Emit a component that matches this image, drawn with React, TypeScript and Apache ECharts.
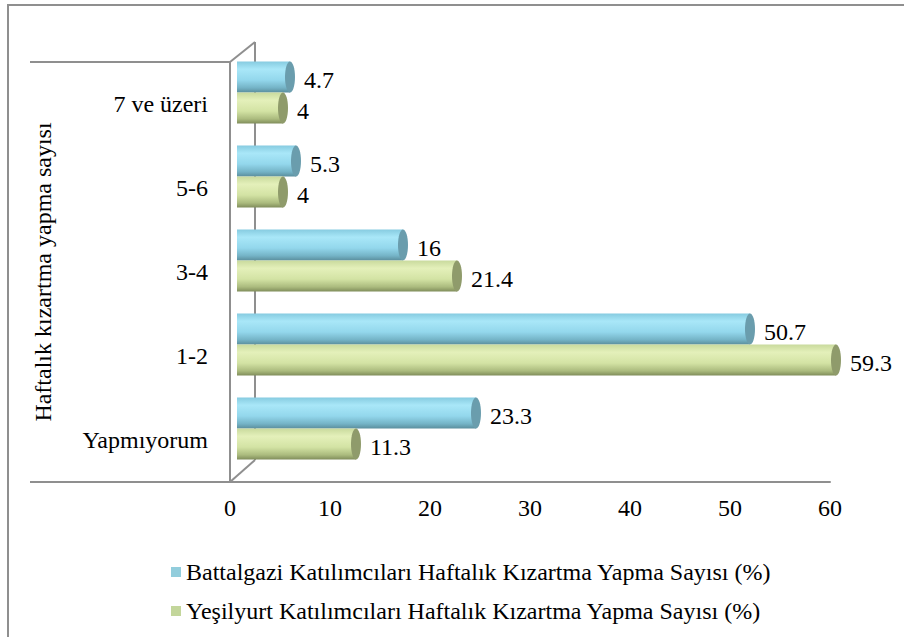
import React, { useEffect, useRef } from "react";
import * as echarts from "echarts";

const categories = ["Yapmıyorum", "1-2", "3-4", "5-6", "7 ve üzeri"];
const battalgazi = [23.3, 50.7, 16, 5.3, 4.7];
const yesilyurt = [11.3, 59.3, 21.4, 4, 4];
const seriesNames = [
  "Battalgazi Katılımcıları Haftalık Kızartma Yapma Sayısı (%)",
  "Yeşilyurt Katılımcıları Haftalık Kızartma Yapma Sayısı (%)",
];
const axisTitle = "Haftalık kızartma yapma sayısı";

const FONT = "Liberation Serif";
const LINE = "#8f8f8f";

const palettes = [
  {
    legend: "#92cddc",
    cap: "#6a9dad",
    stops: [
      { offset: 0, color: "#86cbe0" },
      { offset: 0.25, color: "#a9e7f8" },
      { offset: 0.6, color: "#93d7ec" },
      { offset: 0.85, color: "#74b3c6" },
      { offset: 1, color: "#5b8e9d" },
    ],
  },
  {
    legend: "#c3d69b",
    cap: "#8f9b6b",
    stops: [
      { offset: 0, color: "#c9da9d" },
      { offset: 0.25, color: "#e4f0ba" },
      { offset: 0.6, color: "#d3e3a4" },
      { offset: 0.85, color: "#abbb7e" },
      { offset: 1, color: "#7f8c5a" },
    ],
  },
];

function makeRender(si: number) {
  return (params: any, api: any) => {
    const cat = api.value(1);
    const v = api.value(0);
    const p0 = api.coord([0, cat]);
    const p1 = api.coord([v, cat]);
    const band = api.size([0, 1])[1];
    const h = band * 0.37;
    const shift = band * 0.137;
    const cy = si === 0 ? p0[1] - shift - h / 2 : p0[1] - shift + h / 2;
    const dx = 13;
    const x0 = p0[0] + 7;
    const xe = p1[0] + dx;
    const pal = palettes[si];
    return {
      type: "group",
      children: [
        {
          type: "rect",
          shape: { x: x0, y: cy - h / 2, width: Math.max(xe - x0, 0), height: h },
          style: {
            fill: new echarts.graphic.LinearGradient(0, 0, 0, 1, pal.stops),
          },
        },
        {
          type: "ellipse",
          shape: { cx: xe, cy: cy, rx: 5, ry: h / 2 },
          style: { fill: pal.cap },
        },
        {
          type: "text",
          style: {
            x: xe + 14,
            y: cy + 3,
            text: String(v),
            fill: "#000",
            fontSize: 24,
            fontFamily: FONT,
            verticalAlign: "middle",
          },
        },
      ],
    };
  };
}

function buildOption() {
  const lineStyle = { stroke: LINE, lineWidth: 2 };
  return {
    animation: false,
    backgroundColor: "#fff",
    grid: { left: 230, right: 74, top: 62, bottom: 155, containLabel: false },
    xAxis: {
      type: "value",
      min: 0,
      max: 60,
      interval: 10,
      axisLine: { show: true, lineStyle: { color: LINE, width: 2 } },
      axisTick: { show: false },
      splitLine: { show: false },
      axisLabel: { fontSize: 24, color: "#000", fontFamily: FONT, margin: 14 },
    },
    yAxis: {
      type: "category",
      data: categories,
      axisLine: { show: true, lineStyle: { color: LINE, width: 2 } },
      axisTick: { show: false },
      axisLabel: { fontSize: 24, color: "#000", fontFamily: FONT, margin: 22 },
      name: axisTitle,
      nameLocation: "middle",
      nameRotate: 90,
      nameGap: 175,
      nameTextStyle: { fontSize: 24, color: "#000", fontFamily: FONT },
    },
    legend: {
      orient: "vertical",
      left: 166,
      top: 555,
      icon: "rect",
      itemWidth: 10,
      itemHeight: 10,
      itemGap: 15,
      data: seriesNames.map((n, i) => ({ name: n, itemStyle: { color: palettes[i].legend } })),
      textStyle: { fontSize: 24, color: "#000", fontFamily: FONT, lineHeight: 24 },
    },
    graphic: [
      { type: "rect", shape: { x: 8, y: 5, width: 1000, height: 1000 }, style: { fill: "none", stroke: LINE, lineWidth: 2 }, silent: true },
      { type: "line", shape: { x1: 30, y1: 62, x2: 230, y2: 62 }, style: lineStyle },
      { type: "line", shape: { x1: 30, y1: 482, x2: 230, y2: 482 }, style: lineStyle },
      { type: "line", shape: { x1: 230, y1: 62, x2: 255, y2: 42 }, style: lineStyle },
      { type: "line", shape: { x1: 255, y1: 42, x2: 255, y2: 460 }, style: lineStyle },
      { type: "line", shape: { x1: 230, y1: 482, x2: 255, y2: 460 }, style: lineStyle },
    ],
    series: [battalgazi, yesilyurt].map((arr, si) => ({
      type: "custom",
      name: seriesNames[si],
      clip: false,
      itemStyle: { color: palettes[si].legend },
      renderItem: makeRender(si),
      encode: { x: 0, y: 1 },
      data: arr.map((v, i) => [v, i]),
      z: 5,
    })),
  };
}

export default function App() {
  const ref = useRef<HTMLDivElement>(null);
  useEffect(() => {
    if (!ref.current) return;
    const chart = echarts.init(ref.current, null, { renderer: "svg" });
    chart.setOption(buildOption());
    let alive = true;
    const fonts: any = (document as any).fonts;
    if (fonts && fonts.load) {
      fonts
        .load(`24px "${FONT}"`)
        .then(() => {
          if (alive) chart.setOption(buildOption(), true);
        })
        .catch(() => {});
    }
    return () => {
      alive = false;
      chart.dispose();
    };
  }, []);
  return (
    <div
      ref={ref}
      style={{ position: "fixed", left: 0, top: 0, width: 904, height: 637 }}
    />
  );
}
